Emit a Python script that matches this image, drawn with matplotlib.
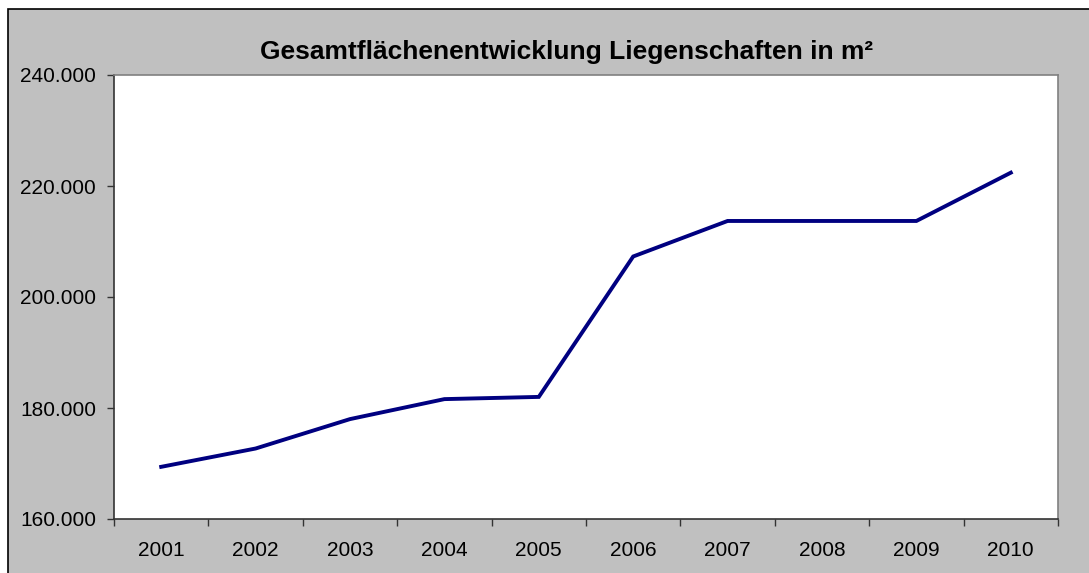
import matplotlib
matplotlib.use("Agg")
import matplotlib.pyplot as plt
from matplotlib.patches import Rectangle
from matplotlib.ticker import FuncFormatter, FixedLocator

plt.rcParams['font.family'] = ['Liberation Sans', 'DejaVu Sans']

years = ['2001', '2002', '2003', '2004', '2005', '2006', '2007', '2008', '2009', '2010']
flaeche = [169400, 172700, 178000, 181600, 182000, 207300, 213700, 213700, 213700, 222400]

fig = plt.figure(figsize=(10.89, 5.73), dpi=100)
fig.patch.set_facecolor('white')

# grauer Diagrammbereich mit Rahmen (rechts/unten abgeschnitten)
W, H = 1089, 573
fig.patches.append(Rectangle((8 / W, -0.1), 1.2, 1 - 9 / H + 0.1, transform=fig.transFigure,
                             facecolor='#c0c0c0', edgecolor='black', linewidth=1.2, zorder=-5))

ax = fig.add_axes([114 / W, 54 / H, 944 / W, 444 / H])
ax.set_zorder(2)
ax.set_facecolor('white')

x = list(range(len(years)))
ax.plot(x, flaeche, color='#000080', linewidth=2.8, solid_joinstyle='miter', clip_on=False)

ax.set_xlim(-0.5, len(years) - 0.5)
ax.set_ylim(160000, 240000)
ax.set_yticks(range(160000, 240001, 20000))
ax.yaxis.set_major_formatter(FuncFormatter(lambda v, p: f"{int(v):,}".replace(",", ".")))

ax.xaxis.set_major_locator(FixedLocator([i - 0.5 for i in range(len(years) + 1)]))
ax.xaxis.set_minor_locator(FixedLocator(x))
ax.set_xticklabels([])
ax.set_xticklabels(years, minor=True)
ax.tick_params(axis='x', which='major', direction='out', length=5, width=1, color='#333333')
ax.tick_params(axis='x', which='minor', length=0, pad=16, labelsize=15)
ax.tick_params(axis='y', direction='out', length=5, width=1, color='#333333', pad=8, labelsize=15)

for s in ['left', 'bottom']:
    ax.spines[s].set_color('#333333')
    ax.spines[s].set_linewidth(1.2)
for s in ['top', 'right']:
    ax.spines[s].set_color('#808080')
    ax.spines[s].set_linewidth(1.2)

fig.text(567 / W, 1 - 59 / H, 'Gesamtflächenentwicklung Liegenschaften in m²',
         ha='center', va='baseline', fontsize=19, fontweight='bold')

fig.savefig('out.png', dpi=100)
